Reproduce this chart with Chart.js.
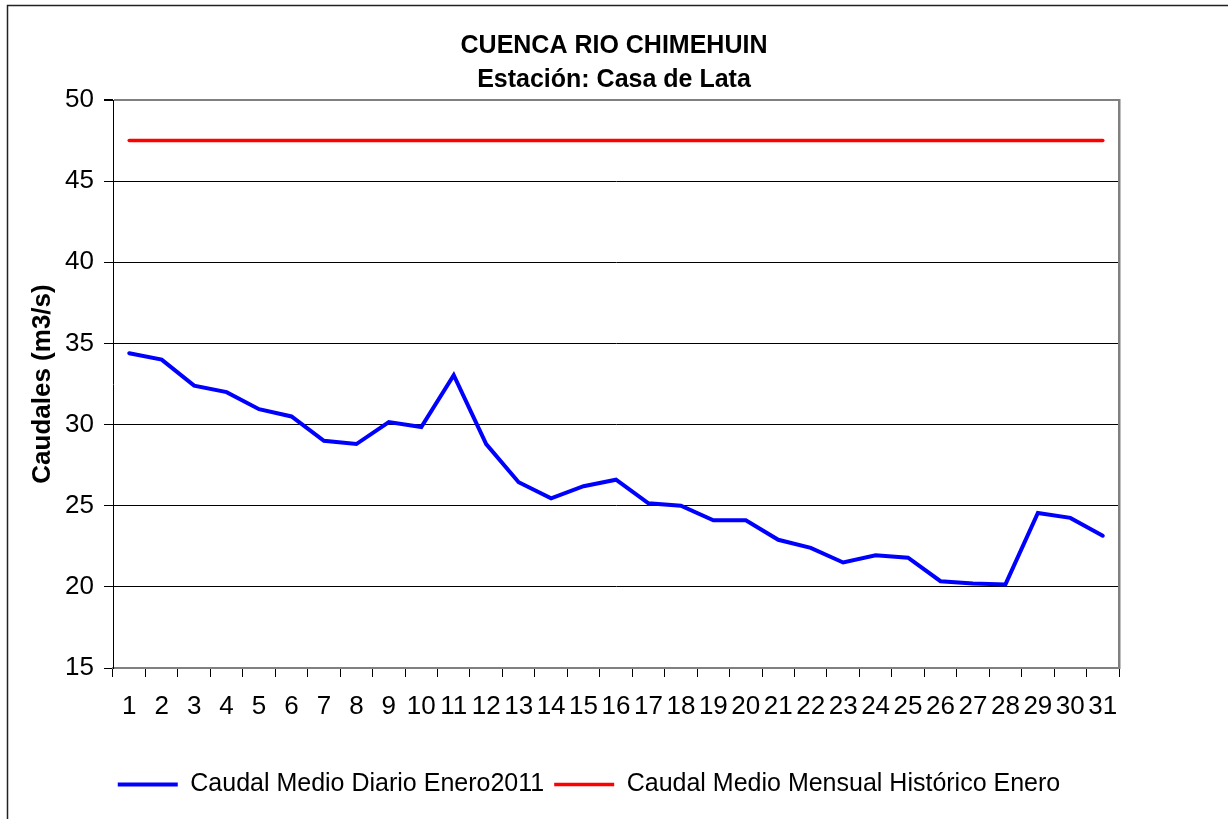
<!DOCTYPE html>
<html>
<head>
<meta charset="utf-8">
<title>Cuenca Rio Chimehuin - Casa de Lata</title>
<script src="https://cdn.jsdelivr.net/npm/chart.js@4/dist/chart.umd.min.js"></script>
<style>
  html, body { margin: 0; padding: 0; background: #fff; }
  canvas { display: block; }
</style>
</head>
<body>
<canvas id="chart" width="1228" height="819"></canvas>
<script>
// Data
const dias = ['1', '2', '3', '4', '5', '6', '7', '8', '9', '10', '11', '12', '13', '14', '15', '16',
  '17', '18', '19', '20', '21', '22', '23', '24', '25', '26', '27', '28', '29', '30', '31'];

const caudalDiario = [34.4, 34.0, 32.4, 32.0, 30.95, 30.5, 29.0, 28.8, 30.15, 29.85, 33.05,
  28.8, 26.45, 25.45, 26.2, 26.6, 25.15, 25.0, 24.1, 24.1, 22.9, 22.4, 21.5, 21.95, 21.8,
  20.35, 20.2, 20.15, 24.55, 24.25, 23.15];

const caudalHistorico = [47.5, 47.5, 47.5, 47.5, 47.5, 47.5, 47.5, 47.5, 47.5, 47.5, 47.5,
  47.5, 47.5, 47.5, 47.5, 47.5, 47.5, 47.5, 47.5, 47.5, 47.5, 47.5, 47.5, 47.5, 47.5,
  47.5, 47.5, 47.5, 47.5, 47.5, 47.5];

const titulo = ['CUENCA RIO CHIMEHUIN', 'Estación: Casa de Lata'];
const yMin = 15;
const yMax = 50;

const FONT = 'Arial, "Liberation Sans", sans-serif';
Chart.defaults.color = '#000';
Chart.defaults.font.family = FONT;

// Outer frame (only top and left edges show in the reference)
const framePlugin = {
  id: 'frame',
  afterDraw(chart) {
    const ctx = chart.ctx;
    ctx.save();
    ctx.strokeStyle = '#222';
    ctx.lineWidth = 1.5;
    ctx.beginPath();
    ctx.moveTo(7.5, 819);
    ctx.lineTo(7.5, 5.5);
    ctx.lineTo(1228, 5.5);
    ctx.stroke();
    ctx.restore();
  },
};

// Legend sits a bit left of centre in the reference
const legendShift = {
  id: 'legendShift',
  afterLayout(chart) {
    if (chart.legend) {
      chart.legend.left -= 25;
      chart.legend.right -= 25;
    }
  },
};

new Chart(document.getElementById('chart'), {
  type: 'line',
  data: {
    labels: dias,
    datasets: [
      {
        label: 'Caudal Medio Diario Enero2011',
        data: caudalDiario,
        borderColor: '#0000ff',
        backgroundColor: '#0000ff',
        borderWidth: 4,
        borderCapStyle: 'round',
        borderJoinStyle: 'miter',
        pointRadius: 0,
        pointStyle: 'line',
        tension: 0,
        yAxisID: 'y',
      },
      {
        label: 'Caudal Medio Mensual Histórico Enero',
        data: caudalHistorico,
        borderColor: '#ff0000',
        backgroundColor: '#ff0000',
        borderWidth: 3.5,
        borderCapStyle: 'round',
        pointRadius: 0,
        pointStyle: 'line',
        tension: 0,
        yAxisID: 'y',
      },
    ],
  },
  options: {
    responsive: false,
    animation: false,
    devicePixelRatio: 1,
    layout: {
      padding: { top: 8, left: 18, right: 18, bottom: 12 },
    },
    plugins: {
      title: {
        display: true,
        text: titulo,
        color: '#000',
        font: { size: 25, weight: 'bold', lineHeight: 1.36 },
        padding: { top: 21, bottom: 3 },
      },
      legend: {
        position: 'bottom',
        labels: {
          usePointStyle: true,
          pointStyle: 'line',
          pointStyleWidth: 60,
          padding: 10,
          color: '#000',
          font: { size: 25 },
        },
      },
      tooltip: { enabled: false },
    },
    scales: {
      x: {
        offset: true,
        grid: {
          offset: true,
          drawOnChartArea: false,
          drawTicks: true,
          tickLength: 9,
          color: '#000',
        },
        border: { color: '#808080', width: 2 },
        ticks: {
          font: { size: 26 },
          padding: 14,
          maxRotation: 0,
          autoSkip: false,
        },
        afterFit(scale) {
          scale.height = 94;
        },
      },
      y: {
        min: yMin,
        max: yMax,
        position: 'left',
        grid: {
          color: (c) => (c.tick && (c.tick.value === yMax || c.tick.value === yMin) ? '#808080' : '#000'),
          lineWidth: (c) => (c.tick && c.tick.value === yMax ? 2 : 1),
          tickLength: 9,
          tickColor: '#000',
        },
        border: { color: '#000', width: 1 },
        ticks: {
          stepSize: 5,
          font: { size: 26 },
          padding: 10,
        },
        title: {
          display: true,
          text: 'Caudales (m3/s)',
          font: { size: 26, weight: 'bold' },
          padding: { top: 9, bottom: 0 },
        },
        afterFit(scale) {
          scale.width = 95;
        },
      },
      y2: {
        position: 'right',
        min: yMin,
        max: yMax,
        grid: { display: false },
        ticks: { display: false },
        border: { display: true, color: '#808080', width: 2.5 },
        afterFit(scale) {
          scale.width = 91;
        },
      },
    },
  },
  plugins: [framePlugin, legendShift],
});
</script>
</body>
</html>
